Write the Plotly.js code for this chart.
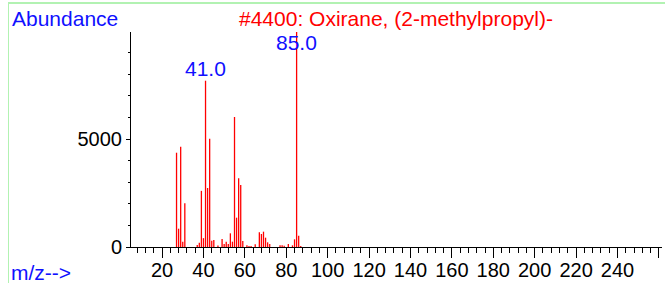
<!DOCTYPE html>
<html>
<head>
<meta charset="utf-8">
<script src="https://cdn.plot.ly/plotly-3.0.1.min.js"></script>
<style>
  html, body { margin: 0; padding: 0; background: #ffffff; }
  #wrap { position: relative; width: 665px; height: 283px; overflow: hidden; }
  #chart { width: 665px; height: 283px; }
  #frame { position: absolute; left: 8px; top: 2px; width: 660px; height: 290px;
           border-top: 2px solid #b2f2b2; border-left: 1px solid #b2f2b2; pointer-events: none; }
</style>
</head>
<body>
<div id="wrap">
  <div id="chart"></div>
  <div id="frame"></div>
</div>
<script>
// m/z values (x) and abundances (y)
var mz = [27, 28, 29, 30, 31, 37, 38, 39, 40, 41, 42, 43, 44, 45, 47, 49, 50, 51, 52, 53,
          54, 55, 56, 57, 58, 59, 61, 62, 63, 65, 67, 68, 69, 70, 71, 72, 77, 78, 79, 81,
          83, 84, 85, 86, 87];
var abundance = [4366, 848, 4644, 245, 2023, 93, 200, 2600, 410, 7699, 2731, 5010, 293, 324, 70, 370, 139, 247, 139, 633,
                 247, 6019, 1358, 3179, 2870, 278, 78, 46, 46, 123, 679, 602, 710, 432, 216, 139, 77, 77, 62, 139,
                 77, 355, 9999, 525, 46];
var xTickVals = [20, 40, 60, 80, 100, 120, 140, 160, 180, 200, 220, 240, 260];
var xTickText = ['20', '40', '60', '80', '100', '120', '140', '160', '180', '200', '220', '240', ''];
var yTickVals = [0, 5000];
var yTickText = ['0', '5000'];
var peakLabels = [{mz: 41, text: '41.0', y: 8288}, {mz: 85, text: '85.0', y: 9492}];
var titleText = '#4400: Oxirane, (2-methylpropyl)-';
var yLabel = 'Abundance';
var xLabel = 'm/z-->';

var FONT = 'Liberation Sans, Arial, Helvetica, sans-serif';
var BLUE = '#1010ff';
var RED = '#ff0000';

// each peak is a vertical stick from 0 to its abundance
var stickX = [], stickY = [];
for (var i = 0; i < mz.length; i++) {
  stickX.push(mz[i], mz[i], null);
  stickY.push(0, abundance[i], null);
}

var trace = {
  type: 'scatter',
  mode: 'lines',
  x: stickX,
  y: stickY,
  connectgaps: false,
  line: {color: RED, width: 1.3},
  hoverinfo: 'skip'
};

var annotations = peakLabels.map(function (p) {
  return {x: p.mz, y: p.y, xref: 'x', yref: 'y', text: p.text, showarrow: false,
          xanchor: 'center', yanchor: 'middle', font: {family: FONT, size: 21, color: BLUE}};
});
annotations.push({x: 0.499, y: 1.065, xref: 'paper', yref: 'paper', text: titleText, showarrow: false,
                  xanchor: 'center', yanchor: 'middle', font: {family: FONT, size: 21, color: RED}});
annotations.push({x: -0.2279, y: 1.065, xref: 'paper', yref: 'paper', text: yLabel, showarrow: false,
                  xanchor: 'left', yanchor: 'middle', font: {family: FONT, size: 21, color: BLUE}});
annotations.push({x: -0.2298, y: -0.117, xref: 'paper', yref: 'paper', text: xLabel, showarrow: false,
                  xanchor: 'left', yanchor: 'middle', font: {family: FONT, size: 21, color: BLUE}});

var layout = {
  width: 665, height: 283,
  margin: {l: 131, r: 3, t: 32, b: 36, pad: 0},
  paper_bgcolor: 'rgba(0,0,0,0)',
  plot_bgcolor: 'rgba(0,0,0,0)',
  showlegend: false,
  xaxis: {
    range: [5, 261.5],
    tickmode: 'array', tickvals: xTickVals, ticktext: xTickText,
    ticks: 'outside', ticklen: 10, tickwidth: 1, tickcolor: '#000',
    ticklabelstandoff: -5,
    minor: {tickmode: 'linear', tick0: 0, dtick: 4, ticks: 'outside', ticklen: 5, tickwidth: 1, tickcolor: '#000', showgrid: false},
    showline: true, linecolor: '#000', linewidth: 1,
    showgrid: false, zeroline: false,
    tickfont: {family: FONT, size: 20, color: '#000'},
    fixedrange: true
  },
  yaxis: {
    range: [0, 9955],
    tickmode: 'array', tickvals: yTickVals, ticktext: yTickText,
    ticks: 'outside', ticklen: 4, tickwidth: 1, tickcolor: '#000',
    minor: {tickmode: 'linear', tick0: 0, dtick: 1000, ticks: 'outside', ticklen: 2, tickwidth: 1, tickcolor: '#000', showgrid: false},
    showline: true, linecolor: '#000', linewidth: 1,
    showgrid: false, zeroline: false,
    tickfont: {family: FONT, size: 20, color: '#000'},
    fixedrange: true
  },
  annotations: annotations
};

Plotly.newPlot('chart', [trace], layout, {displayModeBar: false, staticPlot: true});
</script>
</body>
</html>
